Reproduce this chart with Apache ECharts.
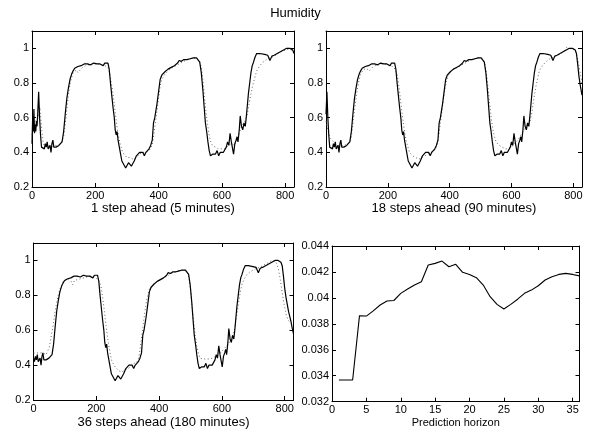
<!DOCTYPE html>
<html>
<head>
<meta charset="utf-8">
<script src="https://cdn.jsdelivr.net/npm/echarts@6/dist/echarts.min.js"></script>
<style>html,body{margin:0;padding:0;background:#fff}#c{width:591px;height:434px}</style>
</head>
<body>
<div id="c"></div>
<script>
// Measured humidity (target), [sample index in the 1-step panel frame, value]
var humidity = [
[0,0.45],[2,0.60],[4,0.52],[6,0.65],[8,0.51],[10,0.56],[12,0.52],[14,0.58],[16,0.55],[18,0.62],[21,0.75],[24,0.60],[27,0.50],[30,0.43],[33,0.42],[36,0.44],[39,0.42],[42,0.45],[45,0.43],[48,0.46],[51,0.42],[54,0.41],[57,0.44],[60,0.40],[63,0.45],[66,0.47],[69,0.43],[72,0.44],[76,0.43],[80,0.43],[85,0.44],[90,0.44],[95,0.46],
[100,0.52],[105,0.62],[110,0.71],[115,0.77],[120,0.82],[125,0.85],[130,0.87],[135,0.885],[140,0.89],[145,0.895],[150,0.895],[155,0.90],[160,0.905],[165,0.91],[170,0.905],[175,0.91],[180,0.91],[185,0.905],[190,0.91],[195,0.915],[200,0.905],[205,0.91],[210,0.915],[215,0.91],[220,0.905],[225,0.90],[230,0.915],[235,0.925],[240,0.915],
[244,0.88],[248,0.80],[252,0.73],[256,0.66],[260,0.60],[263,0.53],[266,0.50],[269,0.52],[272,0.47],[275,0.44],[278,0.41],[281,0.38],[284,0.35],[287,0.36],[290,0.33],[293,0.34],[296,0.31],[299,0.30],[302,0.32],[305,0.34],[308,0.35],[311,0.33],[314,0.32],[317,0.31],[320,0.33],[323,0.35],[326,0.36],[330,0.38],[333,0.37],[336,0.39],[340,0.40],[345,0.39],[350,0.40],[355,0.38],[360,0.40],[365,0.41],[370,0.42],[375,0.44],[380,0.47],
[384,0.57],[388,0.60],[390,0.61],[395,0.68],[400,0.75],[405,0.82],[410,0.845],[415,0.855],[420,0.865],[425,0.875],[430,0.88],[435,0.89],[440,0.89],[445,0.90],[450,0.90],[455,0.91],[460,0.915],[465,0.93],[468,0.92],[472,0.925],[476,0.93],[480,0.935],[485,0.94],[490,0.935],[495,0.945],[500,0.94],[505,0.95],[510,0.945],[515,0.95],[520,0.945],[525,0.935],[530,0.92],
[535,0.86],[540,0.76],[545,0.64],[548,0.57],[552,0.52],[556,0.46],[560,0.41],[564,0.38],[568,0.37],[572,0.39],[576,0.40],[580,0.39],[585,0.41],[590,0.38],[595,0.40],[600,0.41],[605,0.40],[609,0.39],[614,0.43],[618,0.46],[622,0.44],[626,0.51],[630,0.46],[634,0.42],[637,0.39],[641,0.45],[645,0.47],[648,0.49],[651,0.46],[655,0.53],[658,0.61],[662,0.55],[666,0.53],[670,0.57],[674,0.55],[677,0.60],
[680,0.66],[684,0.74],[688,0.80],[692,0.86],[696,0.90],[700,0.92],[705,0.95],[710,0.97],[720,0.97],[735,0.965],[745,0.96],[752,0.93],[758,0.955],[765,0.96],[770,0.965],[775,0.97],[780,0.975],[785,0.98],[790,0.985],[795,0.99],[800,0.995],[805,1.0],[810,0.995],[815,1.0],[820,0.995],[824,0.99],[828,0.97],
[832,0.91],[836,0.84],[840,0.79],[844,0.75],[846,0.73],[848,0.71],[852,0.68],[856,0.65],[860,0.61],[864,0.58]
];

// Horizon shift of each panel (steps)
var shifts = [0, 18, 36];

// Predicted humidity, per panel: [panel x, value]
var pred1 = [
[0,0.50],[5,0.55],[10,0.58],[15,0.57],[20,0.60],[25,0.66],[30,0.55],[35,0.46],[40,0.43],[50,0.44],[60,0.42],[70,0.44],[80,0.44],[90,0.45],[100,0.49],[105,0.56],[110,0.65],[115,0.73],[120,0.79],[125,0.83],[130,0.86],[135,0.87],[140,0.875],[145,0.86],[150,0.87],[160,0.89],[170,0.90],[180,0.905],[190,0.905],[200,0.91],[210,0.91],[220,0.905],[230,0.90],[235,0.89],[240,0.89],
[245,0.86],[250,0.81],[255,0.75],[260,0.68],[265,0.60],[270,0.53],[275,0.48],[280,0.44],[285,0.41],[290,0.39],[300,0.37],[310,0.37],[320,0.36],[330,0.37],[340,0.39],[350,0.40],[360,0.40],[370,0.41],[380,0.44],[385,0.50],[390,0.57],[395,0.64],[400,0.71],[405,0.78],[410,0.82],[420,0.85],[430,0.87],[440,0.885],[450,0.895],[460,0.905],[470,0.915],[480,0.925],[490,0.935],[500,0.94],[510,0.945],[520,0.94],
[530,0.925],[535,0.89],[540,0.82],[545,0.72],[550,0.63],[555,0.56],[560,0.50],[565,0.46],[570,0.44],[580,0.43],[590,0.42],[600,0.42],[610,0.42],[620,0.44],[630,0.45],[640,0.44],[650,0.48],[660,0.54],[670,0.57],[680,0.61],[686,0.68],[692,0.74],[698,0.79],[704,0.83],[710,0.87],[720,0.90],[730,0.92],[741,0.935],[750,0.945],[760,0.95],[770,0.96],[780,0.975],[790,0.985],[800,0.99],[810,0.995],[820,0.99],[828,0.975]
];
var pred18 = [
[0,0.58],[5,0.54],[10,0.50],[15,0.48],[20,0.47],[25,0.46],[30,0.45],[40,0.44],[50,0.44],[60,0.44],[70,0.45],[80,0.47],[85,0.53],[90,0.61],[95,0.68],[100,0.75],[105,0.80],[110,0.84],[115,0.86],[120,0.875],[130,0.885],[140,0.87],[145,0.88],[150,0.89],[160,0.90],[170,0.905],[180,0.91],[190,0.91],[200,0.905],[210,0.90],[215,0.895],[220,0.89],
[225,0.88],[230,0.85],[235,0.79],[240,0.72],[245,0.64],[250,0.57],[255,0.51],[260,0.46],[265,0.43],[270,0.40],[280,0.38],[290,0.37],[300,0.36],[310,0.37],[320,0.38],[330,0.39],[340,0.40],[350,0.41],[360,0.44],[365,0.50],[370,0.57],[375,0.64],[380,0.71],[385,0.77],[390,0.81],[395,0.84],[400,0.86],[410,0.875],[420,0.885],[430,0.895],[440,0.905],[450,0.915],[460,0.925],[470,0.935],[480,0.94],[490,0.945],[500,0.945],
[510,0.93],[515,0.90],[520,0.84],[525,0.76],[530,0.67],[535,0.59],[540,0.53],[545,0.49],[550,0.46],[560,0.44],[570,0.43],[580,0.42],[590,0.42],[600,0.43],[610,0.45],[620,0.47],[630,0.50],[640,0.53],[650,0.56],[660,0.58],[665,0.62],[670,0.68],[675,0.74],[680,0.79],[685,0.83],[690,0.87],[700,0.90],[710,0.92],[720,0.935],[730,0.945],[740,0.955],[750,0.96],[760,0.97],[770,0.985],[778,1.005],[785,1.0],[795,0.995],[805,0.99],[810,0.97],[815,0.93],[820,0.88],[825,0.83],[828,0.80]
];
var pred36 = [
[0,0.47],[5,0.48],[10,0.47],[15,0.48],[20,0.47],[25,0.48],[30,0.47],[35,0.46],[40,0.46],[45,0.48],[50,0.50],[55,0.55],[60,0.60],[65,0.66],[70,0.72],[75,0.77],[80,0.81],[85,0.84],[90,0.86],[95,0.88],[100,0.89],[110,0.895],[120,0.88],[125,0.86],[130,0.885],[140,0.89],[150,0.895],[160,0.90],[170,0.905],[180,0.91],[190,0.905],[200,0.90],
[205,0.895],[210,0.88],[215,0.85],[220,0.79],[225,0.72],[230,0.64],[235,0.57],[240,0.51],[245,0.46],[250,0.42],[260,0.39],[270,0.37],[280,0.36],[290,0.37],[300,0.38],[310,0.39],[320,0.41],[330,0.42],[335,0.44],[340,0.50],[345,0.57],[350,0.64],[355,0.71],[360,0.77],[365,0.81],[370,0.84],[380,0.86],[390,0.875],[400,0.885],[410,0.895],[420,0.905],[430,0.915],[440,0.925],[450,0.935],[460,0.94],[470,0.945],[480,0.945],
[485,0.935],[490,0.93],[495,0.90],[500,0.83],[505,0.74],[510,0.65],[515,0.57],[520,0.51],[525,0.47],[530,0.44],[540,0.435],[550,0.435],[560,0.435],[570,0.44],[580,0.45],[590,0.46],[600,0.48],[610,0.50],[620,0.52],[630,0.55],[640,0.60],[645,0.66],[650,0.72],[655,0.78],[660,0.83],[665,0.87],[673,0.90],[680,0.92],[690,0.935],[700,0.945],[710,0.955],[720,0.96],[730,0.97],[740,0.98],[750,0.99],[760,1.0],[770,0.995],
[775,0.98],[780,0.95],[785,0.90],[790,0.84],[795,0.78],[800,0.73],[805,0.69],[810,0.66],[815,0.65],[820,0.64],[828,0.63]
];

// Error vs prediction horizon
var horizon = [1,2,3,4,5,6,7,8,9,10,11,12,13,14,15,16,17,18,19,20,21,22,23,24,25,26,27,28,29,30,31,32,33,34,35,36];
var errVals = [0.03367,0.03367,0.03367,0.03863,0.0386,0.0390,0.03945,0.03976,0.0398,0.04035,0.04068,0.0410,0.04125,0.04253,0.04266,0.04284,0.0424,0.04259,0.04197,0.04181,0.04156,0.04099,0.04009,0.0395,0.03914,0.0395,0.0399,0.04035,0.0406,0.04094,0.04138,0.04163,0.04181,0.04189,0.04181,0.0417];

var panelTitles = ['1 step ahead (5 minutes)', '18 steps ahead (90 minutes)', '36 steps ahead (180 minutes)', 'Prediction horizon'];
var mainTitle = 'Humidity';
var sampleMax = 828;

var FONT = '"Liberation Sans", Arial, Helvetica, sans-serif';
function shifted(pts, off) {
  return pts.map(function (p) { return [p[0] - off, p[1]]; })
            .filter(function (p) { return p[0] >= 0 && p[0] <= sampleMax; });
}
function zip(xs, ys) { var o = []; for (var i = 0; i < xs.length; i++) o.push([xs[i], ys[i]]); return o; }
function fmt(interval) {
  return function (v) {
    var k = v / interval;
    if (Math.abs(k - Math.round(k)) > 1e-6) return '';
    return String(parseFloat(v.toFixed(4)));
  };
}
var grids = [
  {left: 32, top: 31, width: 262, height: 156},
  {left: 326, top: 31, width: 256, height: 156},
  {left: 33.5, top: 243, width: 260, height: 157},
  {left: 332, top: 246, width: 247.5, height: 155.7}
];
var xCfg = [
  {min: 0, max: sampleMax, interval: 200, name: panelTitles[0], size: 13, gap: 15},
  {min: 0, max: sampleMax, interval: 200, name: panelTitles[1], size: 13, gap: 15},
  {min: 0, max: sampleMax, interval: 200, name: panelTitles[2], size: 13, gap: 16},
  {min: 0, max: 36, interval: 5, name: panelTitles[3], size: 11, gap: 16}
];
var yCfg = [
  {min: 0.2, max: 1.1, interval: 0.2},
  {min: 0.2, max: 1.1, interval: 0.2},
  {min: 0.2, max: 1.1, interval: 0.2},
  {min: 0.032, max: 0.044, interval: 0.002}
];
var xAxes = [], yAxes = [];
var lineC = {color: '#000', width: 1};
for (var g = 0; g < 4; g++) {
  var xc = xCfg[g], yc = yCfg[g];
  xAxes.push({type: 'value', gridIndex: g, position: 'bottom', min: xc.min, max: xc.max, interval: xc.interval,
    name: xc.name, nameLocation: 'middle', nameGap: xc.gap,
    nameTextStyle: {color: '#000', fontSize: xc.size, fontFamily: FONT},
    axisLine: {onZero: false, lineStyle: lineC},
    axisTick: {inside: true, length: 4, lineStyle: lineC},
    axisLabel: {color: '#000', fontSize: 11, fontFamily: FONT, margin: 3, formatter: fmt(xc.interval)},
    splitLine: {show: false}});
  xAxes.push({type: 'value', gridIndex: g, position: 'top', min: xc.min, max: xc.max, interval: xc.interval,
    axisLine: {onZero: false, lineStyle: lineC},
    axisTick: {inside: true, length: 4, lineStyle: lineC},
    axisLabel: {show: false}, splitLine: {show: false}});
  yAxes.push({type: 'value', gridIndex: g, position: 'left', min: yc.min, max: yc.max, interval: yc.interval,
    axisLine: {onZero: false, lineStyle: lineC},
    axisTick: {inside: true, length: 4, lineStyle: lineC},
    axisLabel: {color: '#000', fontSize: 11, fontFamily: FONT, margin: 3, formatter: fmt(yc.interval)},
    splitLine: {show: false}});
  yAxes.push({type: 'value', gridIndex: g, position: 'right', min: yc.min, max: yc.max, interval: yc.interval,
    axisLine: {onZero: false, lineStyle: lineC},
    axisTick: {inside: true, length: 4, lineStyle: lineC},
    axisLabel: {show: false}, splitLine: {show: false}});
}
var preds = [pred1, pred18, pred36];
var series = [];
for (var p = 0; p < 3; p++) {
  series.push({type: 'line', xAxisIndex: 2 * p, yAxisIndex: 2 * p, data: preds[p], showSymbol: false, clip: true,
    lineStyle: {color: '#666', width: 1, type: [1, 2.5]}, z: 2});
  series.push({type: 'line', xAxisIndex: 2 * p, yAxisIndex: 2 * p, data: shifted(humidity, shifts[p]), showSymbol: false, clip: true,
    lineStyle: {color: '#000', width: 1.2}, z: 3});
}
series.push({type: 'line', xAxisIndex: 6, yAxisIndex: 6, data: zip(horizon, errVals), showSymbol: false, clip: true,
  lineStyle: {color: '#000', width: 1.1}});

var chart = echarts.init(document.getElementById('c'), null, {renderer: 'canvas'});
chart.setOption({
  animation: false,
  backgroundColor: '#fff',
  title: {text: mainTitle, left: 'center', top: 2, textStyle: {color: '#000', fontSize: 13, fontWeight: 'normal', fontFamily: FONT}},
  grid: grids,
  xAxis: xAxes,
  yAxis: yAxes,
  series: series
});
</script>
</body>
</html>
